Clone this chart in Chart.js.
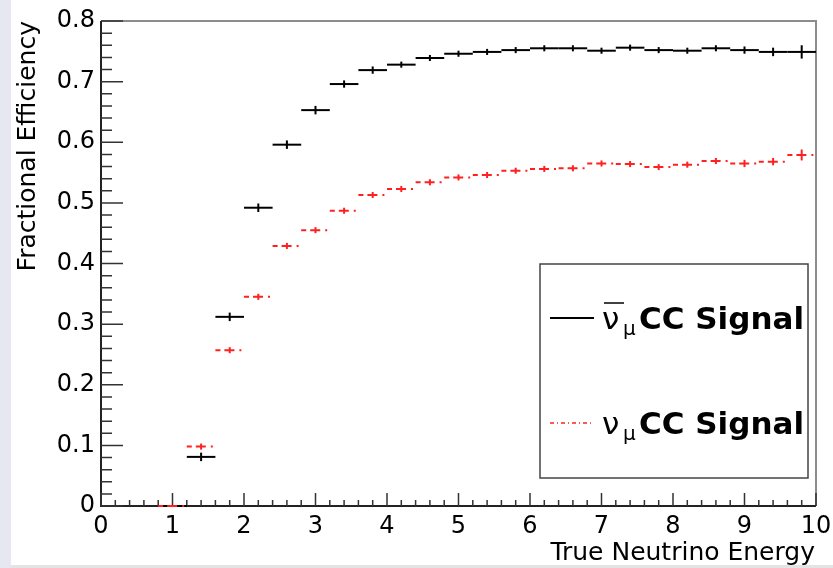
<!DOCTYPE html>
<html>
<head>
<meta charset="utf-8">
<script src="https://cdn.jsdelivr.net/npm/chart.js@4.4.1/dist/chart.umd.min.js"></script>
<style>
  html, body { margin: 0; padding: 0; background: #fff; }
  #wrap { position: relative; width: 833px; height: 568px; }
</style>
</head>
<body>
<div id="wrap"><canvas id="eff" width="833" height="568"></canvas></div>
<script>
// bin centres (GeV), bin width 0.4
const energies = [1.0, 1.4, 1.8, 2.2, 2.6, 3.0, 3.4, 3.8, 4.2, 4.6, 5.0, 5.4,
                  5.8, 6.2, 6.6, 7.0, 7.4, 7.8, 8.2, 8.6, 9.0, 9.4, 9.8];
const binHalf = 0.2;

// anti-numu CC signal (black)
const antiNumuEff = [0.000, 0.081, 0.312, 0.492, 0.596, 0.653, 0.696, 0.719, 0.728, 0.739, 0.746, 0.749,
                     0.752, 0.755, 0.755, 0.751, 0.756, 0.752, 0.751, 0.755, 0.752, 0.749, 0.749];
const antiNumuErr = [0.000, 0.007, 0.007, 0.007, 0.007, 0.007, 0.006, 0.006, 0.005, 0.005, 0.005, 0.005,
                     0.005, 0.005, 0.005, 0.005, 0.005, 0.005, 0.005, 0.005, 0.006, 0.007, 0.011];

// numu CC signal (red)
const numuEff = [0.000, 0.098, 0.257, 0.345, 0.429, 0.455, 0.487, 0.513, 0.523, 0.534, 0.542, 0.546,
                 0.553, 0.556, 0.557, 0.565, 0.564, 0.559, 0.563, 0.569, 0.565, 0.568, 0.579];
const numuErr = [0.000, 0.005, 0.005, 0.005, 0.005, 0.005, 0.005, 0.005, 0.005, 0.005, 0.005, 0.005,
                 0.005, 0.005, 0.005, 0.005, 0.005, 0.005, 0.005, 0.005, 0.006, 0.006, 0.009];

const FONT = '"DejaVu Sans", sans-serif';

// horizontal bin line + vertical error bar for each point
const histMarks = {
  id: 'histMarks',
  afterDatasetsDraw(chart) {
    const { ctx, scales: { x, y } } = chart;
    chart.data.datasets.forEach((ds) => {
      ctx.save();
      ctx.strokeStyle = ds.borderColor;
      ctx.lineWidth = 2;
      ds.data.forEach((p, i) => {
        const x0 = x.getPixelForValue(p.x - binHalf);
        const x1 = x.getPixelForValue(p.x + binHalf);
        const xc = x.getPixelForValue(p.x);
        const yc = y.getPixelForValue(p.y);
        ctx.setLineDash(ds.binDash);
        ctx.beginPath();
        ctx.moveTo(x0, yc);
        ctx.lineTo(x1, yc);
        ctx.stroke();
        ctx.setLineDash([]);
        const e = ds.errors[i];
        if (e > 0) {
          ctx.beginPath();
          ctx.moveTo(xc, y.getPixelForValue(p.y - e));
          ctx.lineTo(xc, y.getPixelForValue(p.y + e));
          ctx.stroke();
        }
      });
      ctx.restore();
    });
  }
};

// ROOT style frame with inward ticks
const frameTicks = {
  id: 'frameTicks',
  beforeDraw(chart) {
    const { ctx } = chart;
    ctx.save();
    ctx.fillStyle = '#fff';
    ctx.fillRect(0, 0, chart.width, chart.height);
    ctx.fillStyle = '#e7e7f1';
    ctx.fillRect(0, 0, 11, chart.height);
    ctx.fillStyle = '#e4e4e4';
    ctx.fillRect(11, 565, chart.width, 3);
    ctx.restore();
  },
  beforeDatasetsDraw(chart) {
    const { ctx, chartArea: a, scales: { x, y } } = chart;
    ctx.save();
    ctx.lineWidth = 2;
    ctx.strokeStyle = '#8c8c8c';
    ctx.beginPath();
    ctx.moveTo(a.left, a.top);
    ctx.lineTo(a.right, a.top);
    ctx.lineTo(a.right, a.bottom);
    ctx.stroke();
    ctx.strokeStyle = '#222';
    ctx.beginPath();
    ctx.moveTo(a.left, a.top);
    ctx.lineTo(a.left, a.bottom);
    ctx.lineTo(a.right, a.bottom);
    ctx.stroke();
    ctx.lineWidth = 1.5;
    ctx.strokeStyle = '#333';
    ctx.beginPath();
    for (let k = 0; k <= 50; k++) {
      const px = x.getPixelForValue(k * 0.2);
      const len = k % 5 === 0 ? 13 : 6;
      ctx.moveTo(px, a.bottom);
      ctx.lineTo(px, a.bottom - len);
    }
    for (let k = 0; k <= 40; k++) {
      const py = y.getPixelForValue(k * 0.02);
      const len = k % 5 === 0 ? 22 : 11;
      ctx.moveTo(a.left, py);
      ctx.lineTo(a.left + len, py);
    }
    ctx.stroke();
    ctx.restore();
  },
  afterDraw(chart) {
    const { ctx } = chart;
    ctx.save();
    ctx.fillStyle = '#000';
    // axis titles
    ctx.font = '25px ' + FONT;
    ctx.textAlign = 'right';
    ctx.textBaseline = 'alphabetic';
    ctx.fillText('True Neutrino Energy', 815, 560);
    ctx.save();
    ctx.translate(35, 21);
    ctx.rotate(-Math.PI / 2);
    ctx.fillText('Fractional Efficiency', 0, 0);
    ctx.restore();

    // legend box
    ctx.fillStyle = '#fff';
    ctx.fillRect(540, 264, 268, 214);
    ctx.strokeStyle = '#444';
    ctx.lineWidth = 1.5;
    ctx.strokeRect(540, 264, 268, 214);

    const entries = chart.data.datasets.map((ds) => ds);
    const rows = [318, 423];
    entries.forEach((ds, i) => {
      const ly = rows[i];
      const base = ly + 11;
      ctx.strokeStyle = ds.borderColor;
      ctx.lineWidth = i === 0 ? 2 : 1.5;
      ctx.setLineDash(ds.legendDash);
      ctx.beginPath();
      ctx.moveTo(550, ly);
      ctx.lineTo(594, ly);
      ctx.stroke();
      ctx.setLineDash([]);
      ctx.fillStyle = '#000';
      ctx.textAlign = 'left';
      ctx.font = '31px ' + FONT;
      ctx.fillText('\u03bd', 602, base);
      if (ds.bar) {
        ctx.strokeStyle = '#000';
        ctx.lineWidth = 1.5;
        ctx.beginPath();
        ctx.moveTo(604, base - 26);
        ctx.lineTo(624, base - 26);
        ctx.stroke();
      }
      ctx.font = '20px ' + FONT;
      ctx.fillText('\u03bc', 623, base + 6);
      ctx.font = 'bold 31px ' + FONT;
      ctx.fillText('CC Signal', 639, base);
    });
    ctx.restore();
  }
};

const toPoints = (vals) => energies.map((e, i) => ({ x: e, y: vals[i] }));

new Chart(document.getElementById('eff'), {
  type: 'scatter',
  data: {
    datasets: [
      {
        label: 'anti-numu CC Signal',
        data: toPoints(antiNumuEff),
        errors: antiNumuErr,
        borderColor: '#000',
        backgroundColor: '#000',
        pointRadius: 0,
        binDash: [],
        legendDash: [],
        bar: true
      },
      {
        label: 'numu CC Signal',
        data: toPoints(numuEff),
        errors: numuErr,
        borderColor: '#ff2020',
        backgroundColor: '#ff2020',
        pointRadius: 0,
        binDash: [5, 4, 10, 5, 2, 20],
        legendDash: [4, 3, 1, 3],
        bar: false
      }
    ]
  },
  options: {
    responsive: false,
    animation: false,
    layout: { padding: { top: 21, right: 17, left: 0, bottom: 0 } },
    plugins: { legend: { display: false }, tooltip: { enabled: false } },
    scales: {
      x: {
        type: 'linear',
        min: 0,
        max: 10,
        afterFit: (s) => { s.height = 62; s.paddingLeft = 0; s.paddingRight = 0; },
        grid: { display: false, drawTicks: false },
        border: { display: false },
        ticks: {
          stepSize: 1,
          autoSkip: false,
          maxRotation: 0,
          padding: 6,
          color: '#000',
          font: { family: FONT, size: 24 }
        }
      },
      y: {
        min: 0,
        max: 0.8,
        afterFit: (s) => { s.width = 101; s.paddingTop = 0; s.paddingBottom = 0; },
        grid: { display: false, drawTicks: false },
        border: { display: false },
        ticks: {
          stepSize: 0.1,
          autoSkip: false,
          padding: 6,
          color: '#000',
          font: { family: FONT, size: 24 }
        }
      }
    }
  },
  plugins: [frameTicks, histMarks]
});
</script>
</body>
</html>
